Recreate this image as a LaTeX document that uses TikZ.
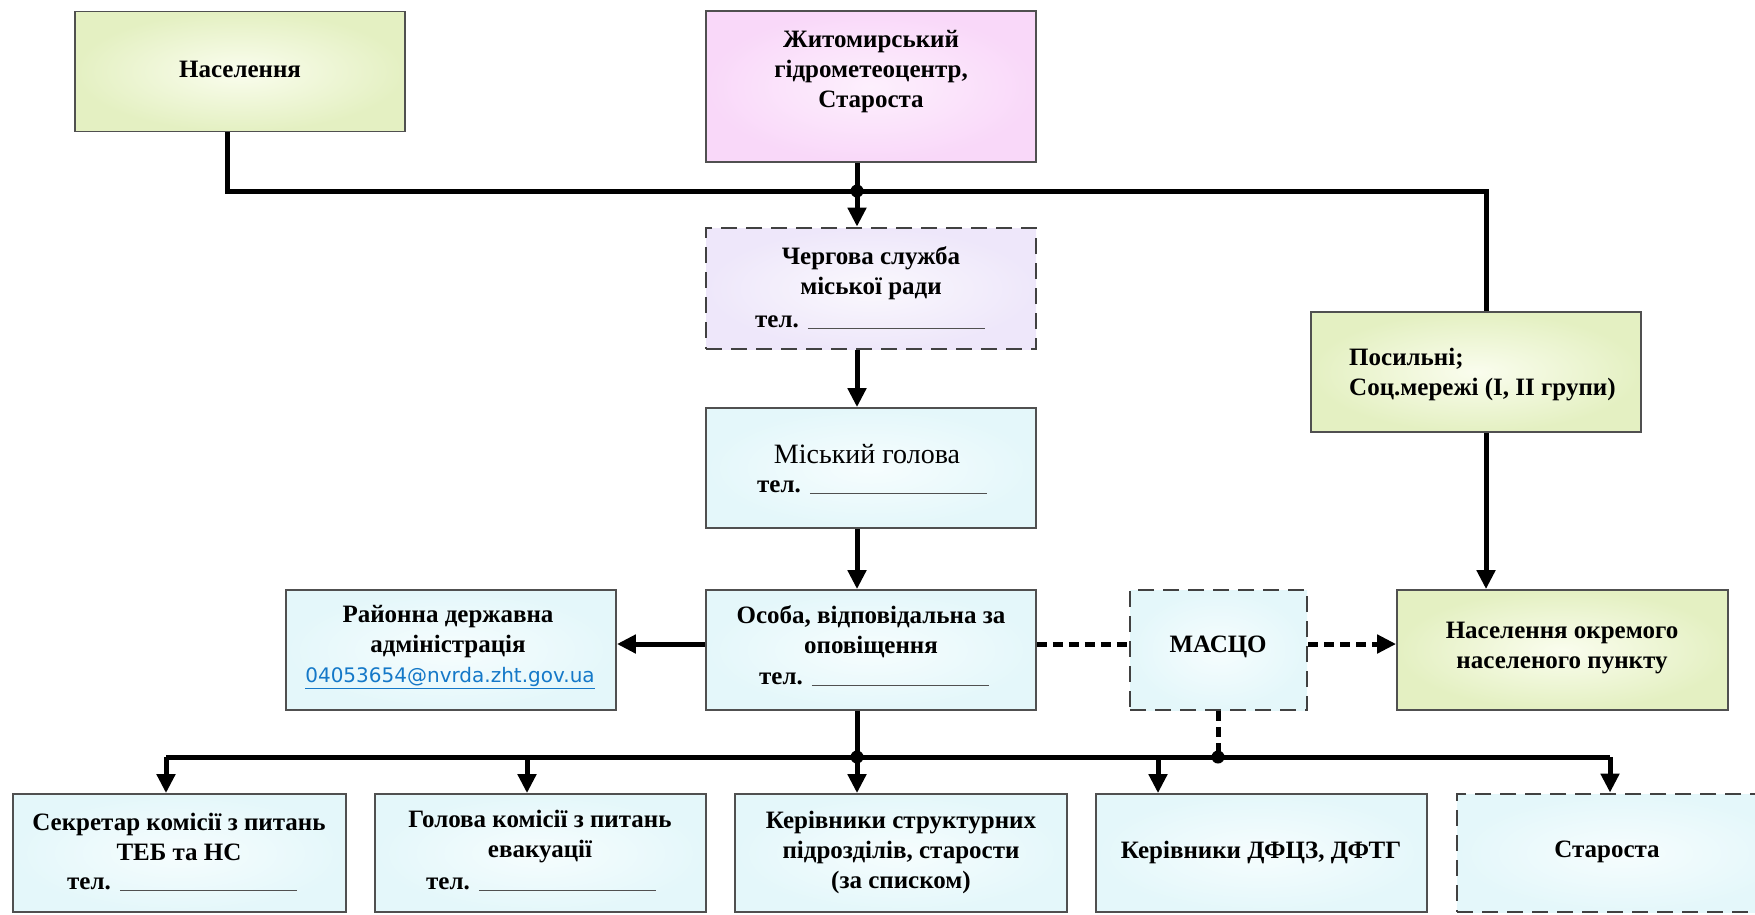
\documentclass[tikz,border=0pt]{standalone}
\usepackage{fontspec}
\setmainfont{Liberation Serif}
\newfontfamily\emailfont{DejaVu Sans}
\usetikzlibrary{arrows.meta}
\definecolor{ygo}{RGB}{228,240,194}
\definecolor{ygi}{RGB}{250,253,238}
\definecolor{pko}{RGB}{249,216,249}
\definecolor{pki}{RGB}{253,240,253}
\definecolor{lvo}{RGB}{238,231,250}
\definecolor{lvi}{RGB}{250,248,253}
\definecolor{cyo}{RGB}{228,247,250}
\definecolor{cyi}{RGB}{246,253,254}
\definecolor{bordc}{RGB}{80,80,80}
\definecolor{dashc}{RGB}{65,65,65}
\definecolor{mailc}{RGB}{20,120,200}
\tikzset{
  box/.style={draw=bordc, line width=1.8pt, minimum width=330pt, minimum height=120pt, inner sep=0pt, shade},
  dbox/.style={box, draw=dashc, dash pattern=on 16pt off 9pt, line width=2.8pt},
  yg/.style={inner color=ygi, outer color=ygo},
  pk/.style={inner color=pki, outer color=pko},
  lv/.style={inner color=lvi, outer color=lvo},
  cy/.style={inner color=cyi, outer color=cyo},
  txt/.style={font=\bfseries\fontsize{25}{30}\selectfont, align=center, inner sep=0pt},
  teltxt/.style={txt, anchor=base west},
  conn/.style={line width=5pt},
  arr/.style={conn, -{Triangle[length=19pt,width=18pt]}},
  dotc/.style={conn, dash pattern=on 10pt off 6pt},
  jdot/.style={circle, fill=black, inner sep=0pt, minimum size=13pt}
}
\newcommand{\telline}{тел.\hspace{9pt}\textcolor{bordc}{\rule[-2pt]{177pt}{1.4pt}}}
\begin{document}
\begin{tikzpicture}[x=1pt,y=-1pt]
\useasboundingbox (0,0) rectangle (1755,914);
% boxes
\node[box, yg] (nas) at (240,71.5) {};
\node[box, pk, minimum height=151pt] (zhyt) at (871,86.5) {};
\node[dbox, lv, minimum height=121pt] (cherg) at (871,288.5) {};
\node[box, cy] (misk) at (871,468) {};
\node[box, cy] (osoba) at (871,650) {};
\node[box, cy] (raion) at (451,650) {};
\node[dbox, cy, minimum width=177pt] (masco) at (1218.5,650) {};
\node[box, yg, minimum width=331pt] (nasokr) at (1562.5,650) {};
\node[box, yg] (posyl) at (1476,372) {};
\node[box, cy, minimum width=333pt, minimum height=118pt] (sekr) at (179.5,853) {};
\node[box, cy, minimum width=331pt, minimum height=118pt] (golova) at (540.5,853) {};
\node[box, cy, minimum width=332pt, minimum height=118pt] (kerstr) at (901,853) {};
\node[box, cy, minimum width=331pt, minimum height=118pt] (kerdf) at (1261.5,853) {};
\node[dbox, cy, minimum width=333pt, minimum height=118pt] (star) at (1623.5,853) {};
% texts
\node[txt] (tnas) at (240,69) {Населення};
\node[txt] (tzhyt) at (871,71.5) {Житомирський\\гідрометеоцентр,\\Староста};
\node[txt] (tcherg) at (871,273) {Чергова служба\\міської ради};
\node[teltxt] (tcherg2) at (755,327) {\telline};
\node[txt, font=\fontsize{28}{32}\selectfont] (tmisk) at (867,454) {Міський голова};
\node[teltxt] (tmisk2) at (757,492) {\telline};
\node[txt] (tosoba) at (871,632) {Особа, відповідальна за\\оповіщення};
\node[teltxt] (tosoba2) at (759,684) {\telline};
\node[txt] (traion) at (448,632) {Районна державна\\адміністрація};
\node[inner sep=0pt, font=\emailfont\fontsize{20}{24}\selectfont, text=mailc] (tmail) at (450,678) {\underline{04053654@nvrda.zht.gov.ua}};
\node[txt] (tmasco) at (1218,647) {МАСЦО};
\node[txt] (tnasokr) at (1562,648) {Населення окремого\\населеного пункту};
\node[txt, align=left, anchor=west] (tposyl) at (1349,375) {Посильні;\\Соц.мережі (І, ІІ групи)};
\node[txt] (tsekr) at (179,837) {Секретар комісії з питань\\ТЕБ та НС};
\node[teltxt] (tsekr2) at (67,889) {\telline};
\node[txt] (tgolova) at (540,837) {Голова комісії з питань\\евакуації};
\node[teltxt] (tgolova2) at (426,889) {\telline};
\node[txt] (tkerstr) at (901,852) {Керівники структурних\\підрозділів, старости\\(за списком)};
\node[txt] (tkerdf) at (1261,852) {Керівники ДФЦЗ, ДФТГ};
\node[txt] (tstar) at (1607,852) {Староста};
% connector coordinates
\coordinate (tl) at (227,191);
\coordinate (tm) at (857,191);
\coordinate (tr) at (1486,191);
\coordinate (bl) at (166,757);
\coordinate (bm) at (857,757);
\coordinate (bd) at (1218,757);
\coordinate (br) at (1610,757);
\coordinate (b2) at (527,757);
\coordinate (b4) at (1158,757);
\coordinate (hy) at (0,644);
% connectors
\draw[conn] (nas.south -| tl) -- (tl) -- (tr) -- (posyl.north -| tr);
\draw[arr] (zhyt.south -| tm) -- (cherg.north -| tm);
\node[jdot] (j1) at (tm) {};
\draw[arr] (cherg.south -| tm) -- (misk.north -| tm);
\draw[arr] (misk.south -| tm) -- (osoba.north -| tm);
\draw[arr] (osoba.west |- hy) -- (raion.east |- hy);
\draw[dotc] (osoba.east |- hy) -- (masco.west |- hy);
\draw[dotc, -{Triangle[length=19pt,width=18pt]}] (masco.east |- hy) -- (nasokr.west |- hy);
\draw[arr] (posyl.south -| tr) -- (nasokr.north -| tr);
\draw[conn] (osoba.south -| bm) -- (bm);
\draw[dotc] (masco.south -| bd) -- (bd);
\draw[conn] (bl) -- (br);
\draw[arr] (bl) -- (sekr.north -| bl);
\draw[arr] (b2) -- (golova.north -| b2);
\draw[arr] (bm) -- (kerstr.north -| bm);
\draw[arr] (b4) -- (kerdf.north -| b4);
\draw[arr] (br) -- (star.north -| br);
\node[jdot] (j2) at (bm) {};
\node[jdot] (j3) at (bd) {};
\end{tikzpicture}
\end{document}
